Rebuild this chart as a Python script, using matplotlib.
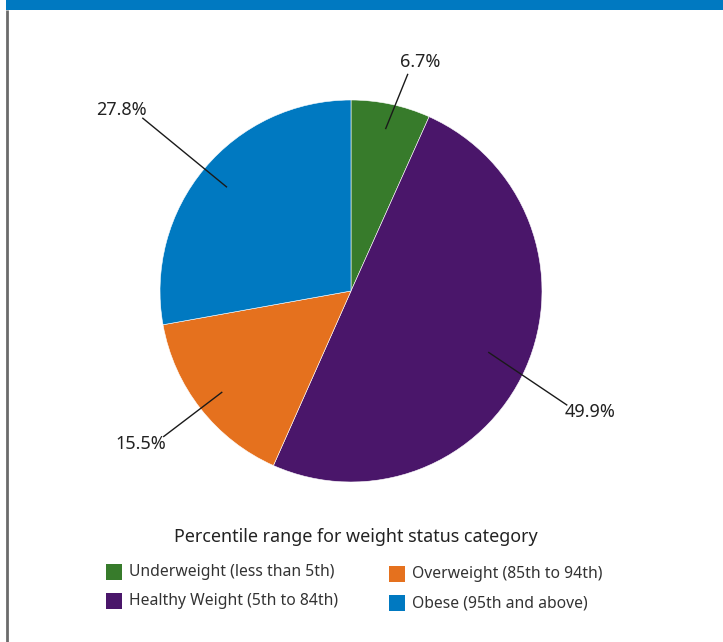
import numpy as np
import matplotlib.pyplot as plt
from matplotlib.patches import Rectangle

plt.rcParams['font.family'] = ['Noto Sans', 'DejaVu Sans']

# data
categories = ['Underweight (less than 5th)', 'Healthy Weight (5th to 84th)',
              'Overweight (85th to 94th)', 'Obese (95th and above)']
shares = [6.7, 49.9, 15.5, 27.8]
colors = ['#377b2b', '#4a166a', '#e5711e', '#0079c1']
legend_title = 'Percentile range for weight status category'

# layout in pixel units (y measured from the bottom)
W, H = 723, 642
cx, cy, r = 351, H - 291, 191
label_pos = [(420, H - 62), (590, H - 412), (141, H - 444), (121, H - 110)]
inner_frac = [0.87, 0.79, 0.86, 0.85]

fig = plt.figure(figsize=(W / 100, H / 100), dpi=100)
ax = fig.add_axes([0, 0, 1, 1])
ax.set_xlim(0, W)
ax.set_ylim(0, H)
ax.axis('off')

# top bar and left border
ax.add_patch(Rectangle((6, H - 10), W - 6, 10, color='#0079c1', lw=0))
ax.plot([7, 7], [0, H - 10], color='#6b6b6b', lw=2, solid_capstyle='butt')

wedges, _ = ax.pie(shares, colors=colors, startangle=90, counterclock=False,
                   center=(cx, cy), radius=r,
                   wedgeprops=dict(edgecolor='white', linewidth=0.4))
ax.set_xlim(0, W)
ax.set_ylim(0, H)
ax.set_aspect('equal')

# percentage labels with leader lines
for w, val, pos, fr in zip(wedges, shares, label_pos, inner_frac):
    ang = np.deg2rad((w.theta1 + w.theta2) / 2)
    px = cx + fr * r * np.cos(ang)
    py = cy + fr * r * np.sin(ang)
    tx, ty = pos
    # line ends just short of the text
    dx, dy = tx - px, ty - py
    d = np.hypot(dx, dy)
    ex, ey = tx - dx / d * 27, ty - dy / d * 14
    ax.plot([px, ex], [py, ey], color='#1a1a1a', lw=1)
    ax.text(tx, ty, f'{val}%', ha='center', va='center', fontsize=13,
            color='#222222')

# legend
ax.text(356, H - 537, legend_title, ha='center', va='center', fontsize=12.9,
        color='#222222')
legend_xy = [(106, H - 580), (106, H - 609), (389, H - 582), (389, H - 611)]
for lab, col, (lx, ly) in zip(categories, colors, legend_xy):
    ax.add_patch(Rectangle((lx, ly), 16, 16, color=col, lw=0))
    ax.text(lx + 23, ly + 8, lab, ha='left', va='center', fontsize=11.3,
            color='#333333')

fig.savefig('out.png', dpi=100)
